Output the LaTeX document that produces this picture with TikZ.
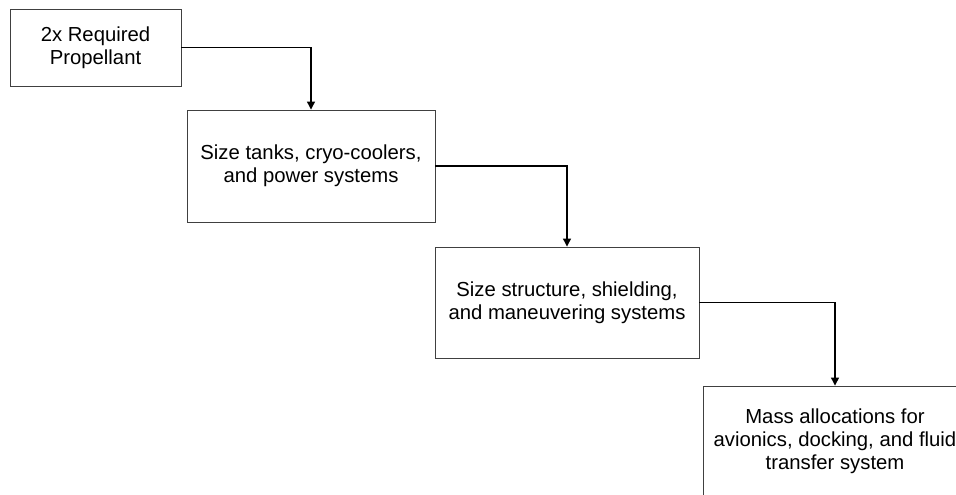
\documentclass[tikz,border=0pt]{standalone}
\usepackage{fontspec}
\setmainfont{Liberation Sans}
\usetikzlibrary{arrows.meta}
\begin{document}
\begin{tikzpicture}[x=1pt,y=-1pt,
  box/.style={draw=black!75, line width=0.9pt, rectangle, align=center, inner sep=0pt,
    font=\fontsize{20.3}{22.8}\selectfont},
  conn/.style={draw=black, line width=1.2pt, -{Triangle[width=8pt,length=8pt]}}]
\useasboundingbox (0,0) rectangle (956,495);
\clip (0,0) rectangle (956,495);
\node[box, minimum width=171pt, minimum height=77pt] (b1) at (95.5,47.5) {2x Required\\Propellant};
\node[box, minimum width=248pt, minimum height=112pt] (b2) at (311,166) {Size tanks, cryo-coolers,\\and power systems};
\node[box, minimum width=264pt, minimum height=111pt] (b3) at (567,302.5) {Size structure, shielding,\\and maneuvering systems};
\node[box, minimum width=264pt, minimum height=111pt] (b4) at (835,441.5) {Mass allocations for\\avionics, docking, and fluid\\transfer system};
\draw[conn] (b1.east) -| (b2.north);
\draw[conn] (b2.east) -| (b3.north);
\draw[conn] (b3.east) -| (b4.north);
\end{tikzpicture}
\end{document}
